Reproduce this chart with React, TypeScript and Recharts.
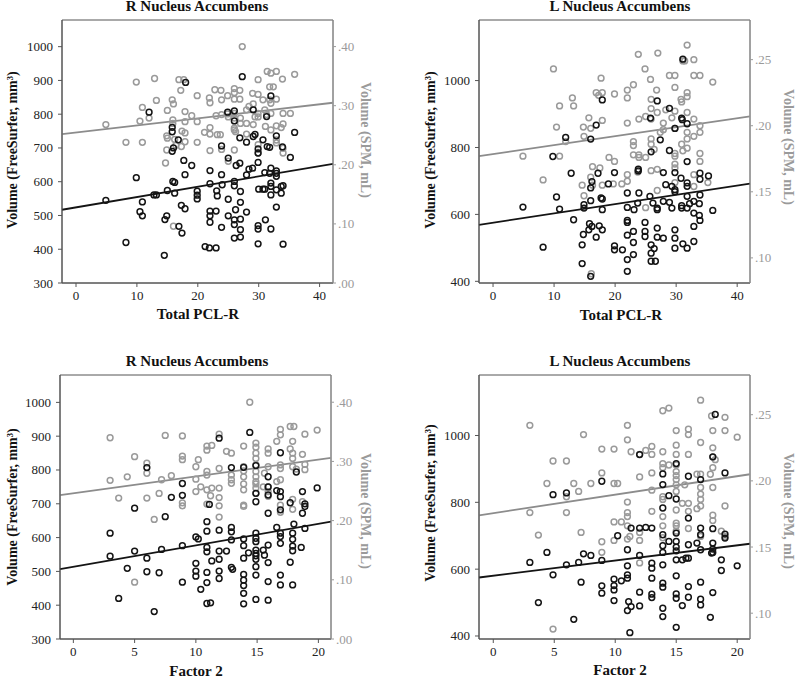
import React from 'react';
import { ScatterChart, Scatter, XAxis, YAxis, ReferenceLine, ReferenceArea } from 'recharts';

// ---------- DATA ----------
type P = [number, number];

// Panel 1: R Nucleus Accumbens vs Total PCL-R
const rPclFreeSurfer: P[] = [[4.9,545],[8.2,420],[9.9,612],[10.5,511],[10.9,540],[10.9,499],[12.0,806],[12.8,561],[13.2,561],[14.5,382],[14.6,488],[14.9,499],[15.0,574],[15.8,761],[15.8,748],[15.8,690],[16.0,700],[15.9,601],[16.2,598],[16.2,566],[16.8,724],[16.9,468],[17.3,530],[17.4,448],[17.7,663],[17.9,621],[17.9,520],[18.0,894],[19.0,648],[19.9,572],[19.9,560],[19.9,549],[21.2,408],[21.9,404],[22.0,633],[22.0,594],[22.0,513],[22.0,499],[22.0,480],[23.0,404],[23.0,513],[23.1,573],[23.2,558],[23.9,706],[23.9,621],[24.0,591],[23.9,465],[24.9,806],[25.0,670],[25.0,548],[25.0,499],[26.0,810],[26.0,780],[26.0,601],[26.0,588],[26.0,487],[26.0,473],[26.0,433],[26.2,517],[26.3,648],[26.9,655],[26.9,730],[27.0,571],[27.0,539],[27.0,489],[27.0,458],[27.0,436],[27.3,911],[28.0,717],[28.0,620],[28.0,510],[28.4,637],[29.0,640],[29.1,734],[29.4,740],[29.1,813],[29.9,685],[29.9,657],[30.0,578],[29.9,470],[29.9,460],[29.9,416],[29.9,697],[30.7,724],[30.7,578],[31.0,627],[31.0,578],[31.1,487],[31.3,793],[31.4,704],[31.8,702],[31.8,625],[32.0,640],[32.0,596],[32.0,586],[32.0,561],[32.0,460],[32.0,854],[32.9,736],[32.9,632],[32.9,625],[32.9,616],[32.9,576],[32.9,525],[33.7,586],[33.7,566],[33.9,703],[34.0,588],[34.0,415],[35.9,746],[35.2,672]];
const rPclSpm: P[] = [[4.9,0.268],[8.2,0.238],[9.9,0.340],[10.5,0.274],[10.9,0.297],[10.9,0.238],[12.0,0.279],[12.9,0.346],[13.2,0.309],[14.7,0.203],[14.9,0.249],[14.9,0.225],[15.0,0.292],[15.0,0.245],[15.8,0.310],[16.0,0.303],[15.9,0.276],[15.9,0.270],[16.0,0.096],[16.2,0.243],[16.4,0.233],[16.9,0.344],[17.2,0.326],[17.3,0.231],[17.4,0.257],[17.7,0.344],[17.9,0.290],[17.9,0.273],[17.9,0.254],[17.9,0.239],[19.0,0.283],[19.9,0.317],[19.9,0.273],[19.9,0.238],[21.9,0.313],[22.0,0.305],[22.0,0.263],[22.0,0.252],[22.0,0.224],[21.1,0.255],[22.8,0.327],[23.0,0.283],[23.2,0.251],[23.8,0.326],[23.9,0.310],[23.9,0.285],[23.7,0.251],[23.9,0.226],[24.9,0.317],[24.9,0.286],[25.0,0.281],[25.0,0.206],[26.0,0.329],[26.0,0.322],[26.0,0.311],[26.0,0.287],[26.0,0.279],[26.0,0.262],[26.0,0.259],[26.0,0.225],[26.2,0.256],[26.9,0.326],[26.9,0.311],[27.0,0.279],[27.0,0.270],[27.3,0.400],[28.0,0.293],[28.0,0.270],[28.0,0.252],[28.4,0.299],[29.0,0.321],[29.1,0.303],[29.1,0.268],[29.4,0.281],[29.9,0.344],[29.9,0.319],[29.9,0.287],[29.9,0.281],[29.9,0.234],[29.9,0.220],[30.7,0.310],[31.0,0.293],[31.1,0.265],[31.3,0.285],[31.4,0.358],[31.8,0.332],[32.0,0.355],[32.0,0.304],[32.0,0.287],[32.0,0.259],[32.9,0.358],[32.9,0.311],[32.9,0.266],[32.9,0.242],[32.9,0.237],[33.7,0.263],[33.9,0.345],[34.0,0.287],[34.0,0.269],[34.0,0.220],[34.0,0.228],[35.2,0.287],[35.9,0.353],[31.8,0.310],[32.4,0.332]];
const rPclFsFit: P[] = [[-2.3,517],[42.2,653]];
const rPclSpmFit: P[] = [[-2.3,0.252],[42.2,0.305]];

// Panel 2: L Nucleus Accumbens vs Total PCL-R
const lPclFreeSurfer: P[] = [[4.9,622],[8.2,502],[9.8,773],[10.4,652],[10.9,616],[11.9,830],[12.8,723],[13.2,584],[14.6,453],[14.6,509],[14.8,540],[14.9,629],[14.9,619],[15.7,554],[15.8,572],[16.0,825],[16.0,679],[16.0,641],[16.0,415],[16.2,698],[16.2,564],[16.9,867],[16.9,532],[17.2,723],[17.4,566],[17.7,649],[17.9,646],[17.9,942],[17.9,614],[17.9,554],[18.9,691],[19.9,725],[19.9,506],[19.9,494],[21.2,494],[22.0,664],[22.0,621],[22.0,582],[22.0,576],[22.0,538],[22.0,465],[22.0,430],[23.0,549],[23.0,516],[23.0,480],[23.1,614],[23.7,634],[23.8,735],[23.8,730],[23.9,664],[24.9,576],[24.9,549],[24.9,534],[25.7,654],[25.8,888],[25.9,787],[25.9,509],[25.9,484],[25.9,460],[26.2,634],[26.4,498],[26.6,460],[26.9,619],[26.9,614],[26.9,559],[26.9,532],[26.9,939],[27.4,823],[27.9,725],[27.9,639],[27.9,529],[28.3,689],[28.9,917],[28.9,791],[28.9,636],[29.3,684],[29.3,619],[29.8,857],[29.8,725],[29.8,674],[29.8,668],[29.8,554],[29.8,529],[29.8,499],[30.8,708],[30.9,626],[30.9,619],[30.9,888],[31.0,883],[31.1,1064],[31.1,512],[31.8,871],[31.8,758],[31.8,694],[31.8,684],[31.8,654],[31.8,619],[31.8,499],[32.2,632],[32.9,564],[32.9,519],[32.9,639],[32.9,604],[33.8,632],[33.8,597],[33.9,723],[33.9,705],[33.9,658],[33.9,582],[35.3,715],[36.0,612]];
const lPclSpm: P[] = [[4.9,0.177],[8.2,0.159],[9.9,0.243],[10.4,0.199],[10.9,0.215],[10.9,0.177],[11.9,0.188],[13.0,0.221],[13.2,0.215],[14.6,0.155],[14.8,0.199],[14.9,0.192],[14.9,0.147],[15.7,0.206],[16.0,0.198],[16.0,0.161],[16.1,0.088],[16.3,0.169],[16.3,0.155],[16.9,0.225],[17.3,0.223],[17.5,0.168],[17.7,0.236],[17.9,0.225],[17.9,0.204],[17.9,0.155],[19.0,0.176],[19.9,0.224],[19.9,0.173],[19.7,0.156],[21.1,0.156],[22.0,0.227],[22.0,0.221],[22.0,0.202],[22.0,0.163],[22.0,0.158],[23.0,0.231],[23.0,0.188],[23.0,0.185],[23.0,0.178],[23.7,0.165],[23.8,0.254],[23.9,0.205],[23.9,0.178],[23.9,0.176],[24.9,0.243],[25.0,0.207],[25.0,0.176],[25.0,0.138],[25.8,0.235],[25.9,0.220],[25.9,0.213],[25.9,0.205],[25.9,0.190],[25.9,0.186],[25.9,0.166],[26.4,0.182],[26.8,0.227],[26.9,0.210],[26.9,0.167],[26.9,0.151],[27.0,0.255],[27.4,0.195],[27.9,0.202],[27.9,0.197],[28.3,0.212],[28.9,0.238],[29.3,0.206],[29.8,0.238],[29.8,0.229],[29.8,0.198],[29.8,0.179],[29.8,0.177],[29.8,0.171],[29.8,0.168],[29.8,0.157],[29.8,0.211],[30.8,0.220],[30.9,0.218],[30.9,0.186],[31.1,0.249],[31.4,0.249],[31.1,0.181],[31.8,0.261],[31.8,0.225],[31.8,0.222],[31.8,0.210],[31.8,0.195],[31.8,0.190],[31.8,0.183],[32.9,0.250],[32.9,0.238],[32.9,0.205],[32.9,0.192],[32.9,0.163],[32.9,0.154],[33.9,0.238],[33.9,0.200],[33.9,0.195],[33.9,0.179],[33.9,0.173],[35.2,0.157],[36.0,0.233]];
const lPclFsFit: P[] = [[-2.3,569],[42.1,692]];
const lPclSpmFit: P[] = [[-2.3,0.177],[42.1,0.207]];

// Panel 3: R Nucleus Accumbens vs Factor 2
const rF2FreeSurfer: P[] = [[3.0,613],[3.0,545],[3.7,420],[4.4,509],[5.0,687],[5.0,560],[6.0,807],[6.0,539],[6.0,499],[6.6,381],[7.0,496],[7.2,565],[7.5,662],[8.0,719],[8.9,760],[8.9,725],[8.9,576],[8.9,468],[10.0,602],[10.0,524],[10.0,501],[10.0,486],[10.2,596],[10.4,447],[10.9,647],[10.9,619],[10.9,571],[10.9,558],[10.9,497],[10.9,467],[10.9,405],[11.2,407],[11.1,698],[11.3,531],[11.9,894],[11.9,622],[11.9,560],[11.9,536],[11.9,501],[11.9,479],[12.5,560],[12.9,807],[12.9,630],[12.9,617],[12.9,593],[12.9,512],[13.0,506],[13.9,808],[13.9,596],[13.9,576],[13.9,539],[13.9,491],[13.9,474],[13.9,458],[13.9,435],[13.9,404],[14.3,555],[14.4,911],[14.9,813],[14.9,731],[14.9,706],[14.9,613],[14.9,598],[14.9,588],[14.9,563],[14.9,546],[14.9,489],[14.9,514],[14.9,417],[14.9,536],[14.9,553],[15.5,563],[15.6,548],[15.9,780],[15.9,750],[15.9,672],[15.9,578],[15.9,526],[15.9,470],[15.9,415],[15.9,726],[16.6,739],[16.6,630],[16.9,736],[16.9,682],[16.9,613],[16.9,603],[16.9,583],[16.9,489],[16.9,460],[16.9,851],[16.9,721],[17.7,703],[17.7,527],[17.9,613],[17.9,595],[17.9,575],[17.9,561],[17.9,460],[18.0,640],[18.2,794],[18.6,571],[18.7,736],[18.7,672],[18.9,700],[18.9,692],[18.9,627],[19.9,747]];
const rF2Spm: P[] = [[3.0,0.340],[3.0,0.268],[3.7,0.238],[4.4,0.274],[5.0,0.308],[5.0,0.096],[6.0,0.297],[6.0,0.280],[6.0,0.238],[6.6,0.202],[7.0,0.246],[7.2,0.269],[7.5,0.344],[8.0,0.276],[8.9,0.343],[8.9,0.309],[8.9,0.303],[8.9,0.230],[8.9,0.225],[10.0,0.291],[10.0,0.270],[10.0,0.249],[10.2,0.303],[10.4,0.257],[10.9,0.326],[10.9,0.319],[10.9,0.283],[10.9,0.277],[10.9,0.252],[10.9,0.228],[11.2,0.242],[11.3,0.327],[11.3,0.255],[11.9,0.346],[11.9,0.288],[11.9,0.255],[11.9,0.239],[11.9,0.225],[11.9,0.206],[12.5,0.317],[12.9,0.314],[12.9,0.277],[12.9,0.269],[12.9,0.263],[13.9,0.326],[13.9,0.291],[13.9,0.284],[13.9,0.274],[13.9,0.262],[13.9,0.252],[13.9,0.226],[13.9,0.224],[14.4,0.400],[14.9,0.331],[14.9,0.324],[14.9,0.314],[14.9,0.305],[14.9,0.294],[14.9,0.283],[14.9,0.274],[14.9,0.266],[14.9,0.262],[14.9,0.255],[14.9,0.246],[15.5,0.257],[15.6,0.280],[15.9,0.321],[15.9,0.314],[15.9,0.291],[15.9,0.257],[15.9,0.249],[15.9,0.241],[16.6,0.334],[16.6,0.266],[16.9,0.354],[16.9,0.345],[16.9,0.294],[16.9,0.288],[16.9,0.269],[16.9,0.226],[16.9,0.214],[17.7,0.321],[17.7,0.359],[18.0,0.359],[17.9,0.334],[17.9,0.314],[17.9,0.305],[17.9,0.291],[17.9,0.236],[17.9,0.219],[18.2,0.287],[18.7,0.312],[18.7,0.232],[18.9,0.346],[18.9,0.295],[18.9,0.286],[19.9,0.353]];
const rF2FsFit: P[] = [[-1.09,507],[21.03,647]];
const rF2SpmFit: P[] = [[-1.09,0.243],[21.03,0.306]];

// Panel 4: L Nucleus Accumbens vs Factor 2
const lF2FreeSurfer: P[] = [[3.0,620],[3.7,500],[4.4,650],[4.9,583],[4.9,823],[6.0,828],[6.0,613],[6.6,450],[7.0,620],[7.2,561],[7.4,646],[8.0,641],[8.9,863],[8.9,626],[8.9,550],[8.9,528],[9.9,570],[9.9,551],[9.9,538],[9.9,506],[10.2,700],[10.5,565],[11.0,658],[11.0,610],[11.0,583],[11.0,573],[11.0,476],[11.1,503],[11.2,410],[11.3,488],[11.3,723],[12.0,943],[12.0,723],[12.0,641],[12.0,531],[12.0,490],[12.5,725],[13.0,723],[13.0,618],[13.0,603],[13.0,573],[13.0,525],[13.0,515],[13.9,885],[13.9,853],[13.9,783],[13.9,703],[13.9,670],[13.9,650],[13.9,613],[13.9,558],[13.9,546],[13.9,483],[13.9,458],[14.4,683],[14.4,820],[15.0,916],[15.0,810],[15.0,708],[15.0,683],[15.0,666],[15.0,655],[15.0,628],[15.0,580],[15.0,526],[15.0,513],[15.0,426],[15.5,628],[15.5,491],[15.8,633],[16.0,878],[16.0,753],[16.0,673],[16.0,633],[16.0,548],[16.0,516],[16.7,678],[17.0,868],[17.0,723],[17.0,703],[17.0,658],[17.0,561],[17.0,510],[17.0,493],[17.8,456],[17.9,648],[18.0,936],[18.0,721],[18.0,678],[18.0,660],[18.0,650],[18.0,530],[18.2,1063],[18.7,628],[18.7,596],[19.0,888],[19.0,705],[19.0,693],[20.0,610]];
const lF2Spm: P[] = [[3.0,0.242],[3.0,0.176],[3.7,0.159],[4.4,0.198],[4.9,0.215],[4.9,0.088],[6.0,0.215],[6.0,0.188],[6.0,0.176],[6.6,0.198],[7.0,0.192],[7.2,0.161],[7.4,0.235],[8.0,0.198],[8.9,0.224],[8.9,0.206],[8.9,0.154],[8.9,0.146],[9.9,0.224],[9.9,0.198],[9.9,0.169],[9.9,0.155],[10.2,0.198],[10.5,0.169],[11.0,0.242],[11.0,0.231],[11.0,0.184],[11.0,0.176],[11.0,0.173],[11.0,0.166],[11.0,0.156],[11.2,0.158],[11.3,0.222],[12.0,0.220],[12.0,0.203],[12.0,0.161],[12.0,0.155],[12.0,0.138],[12.5,0.223],[13.0,0.226],[13.0,0.220],[13.0,0.206],[13.0,0.193],[13.0,0.177],[13.9,0.253],[13.9,0.222],[13.9,0.213],[13.9,0.210],[13.9,0.188],[13.9,0.186],[13.9,0.173],[13.9,0.166],[13.9,0.157],[14.4,0.212],[14.4,0.255],[15.0,0.238],[15.0,0.227],[15.0,0.220],[15.0,0.212],[15.0,0.207],[15.0,0.204],[15.0,0.201],[15.0,0.197],[15.0,0.192],[15.0,0.178],[15.0,0.168],[15.0,0.166],[15.0,0.162],[15.5,0.183],[15.7,0.197],[16.0,0.239],[16.0,0.235],[16.0,0.220],[16.0,0.183],[16.0,0.177],[16.0,0.164],[16.7,0.179],[16.7,0.205],[17.0,0.261],[17.0,0.229],[17.0,0.205],[17.0,0.195],[17.0,0.190],[17.0,0.186],[17.0,0.181],[17.0,0.158],[17.8,0.205],[17.9,0.249],[18.0,0.238],[18.0,0.225],[18.0,0.218],[18.0,0.210],[18.0,0.195],[18.0,0.174],[18.0,0.170],[18.2,0.216],[18.7,0.162],[19.0,0.248],[19.0,0.238],[19.0,0.181],[19.0,0.158],[20.0,0.233]];
const lF2FsFit: P[] = [[-1.17,575],[21.05,676]];
const lF2SpmFit: P[] = [[-1.17,0.174],[21.05,0.205]];

// Axis ticks
const pclTicks = [0, 10, 20, 30, 40];
const f2Ticks = [0, 5, 10, 15, 20];
const rFsTicks = [300, 400, 500, 600, 700, 800, 900, 1000];
const rSpmTicks = [0, 0.1, 0.2, 0.3, 0.4];
const lFsTicks = [400, 600, 800, 1000];
const lSpmTicks = [0.1, 0.15, 0.2, 0.25];

const titles = ['R Nucleus Accumbens', 'L Nucleus Accumbens'];
const xLabels = ['Total PCL-R', 'Factor 2'];
const yLeftLabel = 'Volume (FreeSurfer, mm³)';
const yRightLabel = 'Volume (SPM, mL)';

// ---------- STYLE ----------
const FONT = '"Liberation Serif", "Times New Roman", serif';
const BLACK = '#141414';
const GRAY = '#9a9a9a';
const AXIS = '#555';

const toPts = (arr: P[]) => arr.map(([x, y]) => ({ x, y }));
const fmtSpm = (v: number) => v.toFixed(2).replace(/^0/, '');

function AxisText(props: any) {
  const { px, py, txt, rot, color } = props;
  return (
    <text
      x={px}
      y={py}
      transform={rot ? `rotate(${rot} ${px} ${py})` : undefined}
      textAnchor="middle"
      dominantBaseline={rot ? 'central' : 'auto'}
      fontWeight="bold"
      fontSize={props.size || 14}
      fill={color}
      style={{ fontFamily: FONT }}
    >
      {txt}
    </text>
  );
}

function TickText(props: any) {
  const { x, y, payload, side, color } = props;
  const v = payload?.value;
  if (side === 'bottom') {
    return (
      <text x={x} y={y + 10} textAnchor="middle" fill={color} fontSize={13} style={{ fontFamily: FONT }}>
        {v}
      </text>
    );
  }
  if (side === 'left') {
    return (
      <text x={x} y={y + 4.5} textAnchor="end" fill={color} fontSize={13} style={{ fontFamily: FONT }}>
        {v}
      </text>
    );
  }
  return (
    <text x={x} y={y + 4.5} textAnchor="start" fill={color} fontSize={13} style={{ fontFamily: FONT }}>
      {fmtSpm(v)}
    </text>
  );
}

const circleShape = (color: string) => (p: any) => (
  <circle cx={p.cx} cy={p.cy} r={2.9} fill="none" stroke={color} strokeWidth={1.5} />
);

type Cfg = {
  left: number; top: number; title: string; xLabel: string;
  margin: { top: number; right: number; bottom: number; left: number };
  xDomain: [number, number]; xTicks: number[];
  fsDomain: [number, number]; fsTicks: number[];
  spmDomain: [number, number]; spmTicks: number[];
  fs: P[]; spm: P[]; fsFit: P[]; spmFit: P[];
  titleX: number; titleBase: number;
  leftLab: [number, number]; rightLab: [number, number]; xLab: [number, number];
};

function Panel({ c }: { c: Cfg }) {
  return (
    <div style={{ position: 'absolute', left: c.left, top: c.top, width: 400, height: 341, fontFamily: FONT }}>
      <ScatterChart width={400} height={341} margin={c.margin}>
        <XAxis
          type="number" dataKey="x" domain={c.xDomain} ticks={c.xTicks} allowDataOverflow
          height={30} tickSize={4} tickMargin={3} stroke={AXIS}
          tick={<TickText side="bottom" color="#222" />}
          label={<AxisText px={c.xLab[0]} py={c.xLab[1]} txt={c.xLabel} color="#111" size={15} />}
        />
        <YAxis
          yAxisId="left" type="number" dataKey="y" domain={c.fsDomain} ticks={c.fsTicks} allowDataOverflow
          width={45} tickSize={4} tickMargin={5} stroke={AXIS}
          tick={<TickText side="left" color="#222" />}
          label={<AxisText px={c.leftLab[0]} py={c.leftLab[1]} txt={yLeftLabel} rot={-90} color="#111" />}
        />
        <YAxis
          yAxisId="right" orientation="right" type="number" dataKey="y" domain={c.spmDomain} ticks={c.spmTicks} allowDataOverflow
          width={45} tickSize={3} tickMargin={2} stroke={GRAY}
          tick={<TickText side="right" color={GRAY} />}
          label={<AxisText px={c.rightLab[0]} py={c.rightLab[1]} txt={yRightLabel} rot={90} color={GRAY} />}
        />
        <ReferenceArea
          yAxisId="left" x1={c.xDomain[0]} x2={c.xDomain[1]} y1={c.fsDomain[0]} y2={c.fsDomain[1]}
          fill="none" stroke={AXIS} strokeWidth={1} ifOverflow="visible"
        />
        <Scatter yAxisId="right" data={toPts(c.spm)} shape={circleShape(GRAY)} isAnimationActive={false} />
        <Scatter yAxisId="left" data={toPts(c.fs)} shape={circleShape(BLACK)} isAnimationActive={false} />
        <ReferenceLine
          yAxisId="right" ifOverflow="visible"
          segment={[{ x: c.spmFit[0][0], y: c.spmFit[0][1] }, { x: c.spmFit[1][0], y: c.spmFit[1][1] }]}
          stroke="#8c8c8c" strokeWidth={1.8}
        />
        <ReferenceLine
          yAxisId="left" ifOverflow="visible"
          segment={[{ x: c.fsFit[0][0], y: c.fsFit[0][1] }, { x: c.fsFit[1][0], y: c.fsFit[1][1] }]}
          stroke={BLACK} strokeWidth={1.8}
        />
      </ScatterChart>
      <div
        style={{
          position: 'absolute', left: c.titleX - 150, top: c.titleBase - 12.6, width: 300,
          textAlign: 'center', fontFamily: FONT, fontWeight: 'bold', fontSize: 15, lineHeight: '15px',
          color: '#111', pointerEvents: 'none',
        }}
      >
        {c.title}
      </div>
    </div>
  );
}

const panels: Cfg[] = [
  {
    left: 0, top: 0, title: titles[0], xLabel: xLabels[0],
    margin: { top: 20, right: 22, bottom: 28, left: 17 },
    xDomain: [-2.3, 42.2], xTicks: pclTicks,
    fsDomain: [300, 1079], fsTicks: rFsTicks,
    spmDomain: [0, 0.445], spmTicks: rSpmTicks,
    fs: rPclFreeSurfer, spm: rPclSpm, fsFit: rPclFsFit, spmFit: rPclSpmFit,
    titleX: 197, titleBase: 12, leftLab: [12, 150], rightLab: [365, 140], xLab: [198, 319],
  },
  {
    left: 400, top: 0, title: titles[1], xLabel: xLabels[0],
    margin: { top: 20, right: 5, bottom: 28, left: 34 },
    xDomain: [-2.3, 42.1], xTicks: pclTicks,
    fsDomain: [395, 1181], fsTicks: lFsTicks,
    spmDomain: [0.081, 0.28], spmTicks: lSpmTicks,
    fs: lPclFreeSurfer, spm: lPclSpm, fsFit: lPclFsFit, spmFit: lPclSpmFit,
    titleX: 220, titleBase: 12, leftLab: [30, 150], rightLab: [388, 147], xLab: [221, 320],
  },
  {
    left: 0, top: 341, title: titles[0], xLabel: xLabels[1],
    margin: { top: 34, right: 24, bottom: 13, left: 15 },
    xDomain: [-1.09, 21.03], xTicks: f2Ticks,
    fsDomain: [300, 1081], fsTicks: rFsTicks,
    spmDomain: [0, 0.446], spmTicks: rSpmTicks,
    fs: rF2FreeSurfer, spm: rF2Spm, fsFit: rF2FsFit, spmFit: rF2SpmFit,
    titleX: 197, titleBase: 26, leftLab: [12, 166], rightLab: [365, 170], xLab: [196, 335],
  },
  {
    left: 400, top: 341, title: titles[1], xLabel: xLabels[1],
    margin: { top: 34, right: 5, bottom: 13, left: 34 },
    xDomain: [-1.17, 21.05], xTicks: f2Ticks,
    fsDomain: [391, 1181], fsTicks: lFsTicks,
    spmDomain: [0.0805, 0.28], spmTicks: lSpmTicks,
    fs: lF2FreeSurfer, spm: lF2Spm, fsFit: lF2FsFit, spmFit: lF2SpmFit,
    titleX: 220, titleBase: 26, leftLab: [30, 162], rightLab: [388, 170], xLab: [220, 334],
  },
];

export default function App() {
  return (
    <div style={{ position: 'absolute', left: 0, top: 0, width: 800, height: 682, background: '#fff', fontFamily: FONT }}>
      {panels.map((c, i) => (
        <Panel key={i} c={c} />
      ))}
    </div>
  );
}
